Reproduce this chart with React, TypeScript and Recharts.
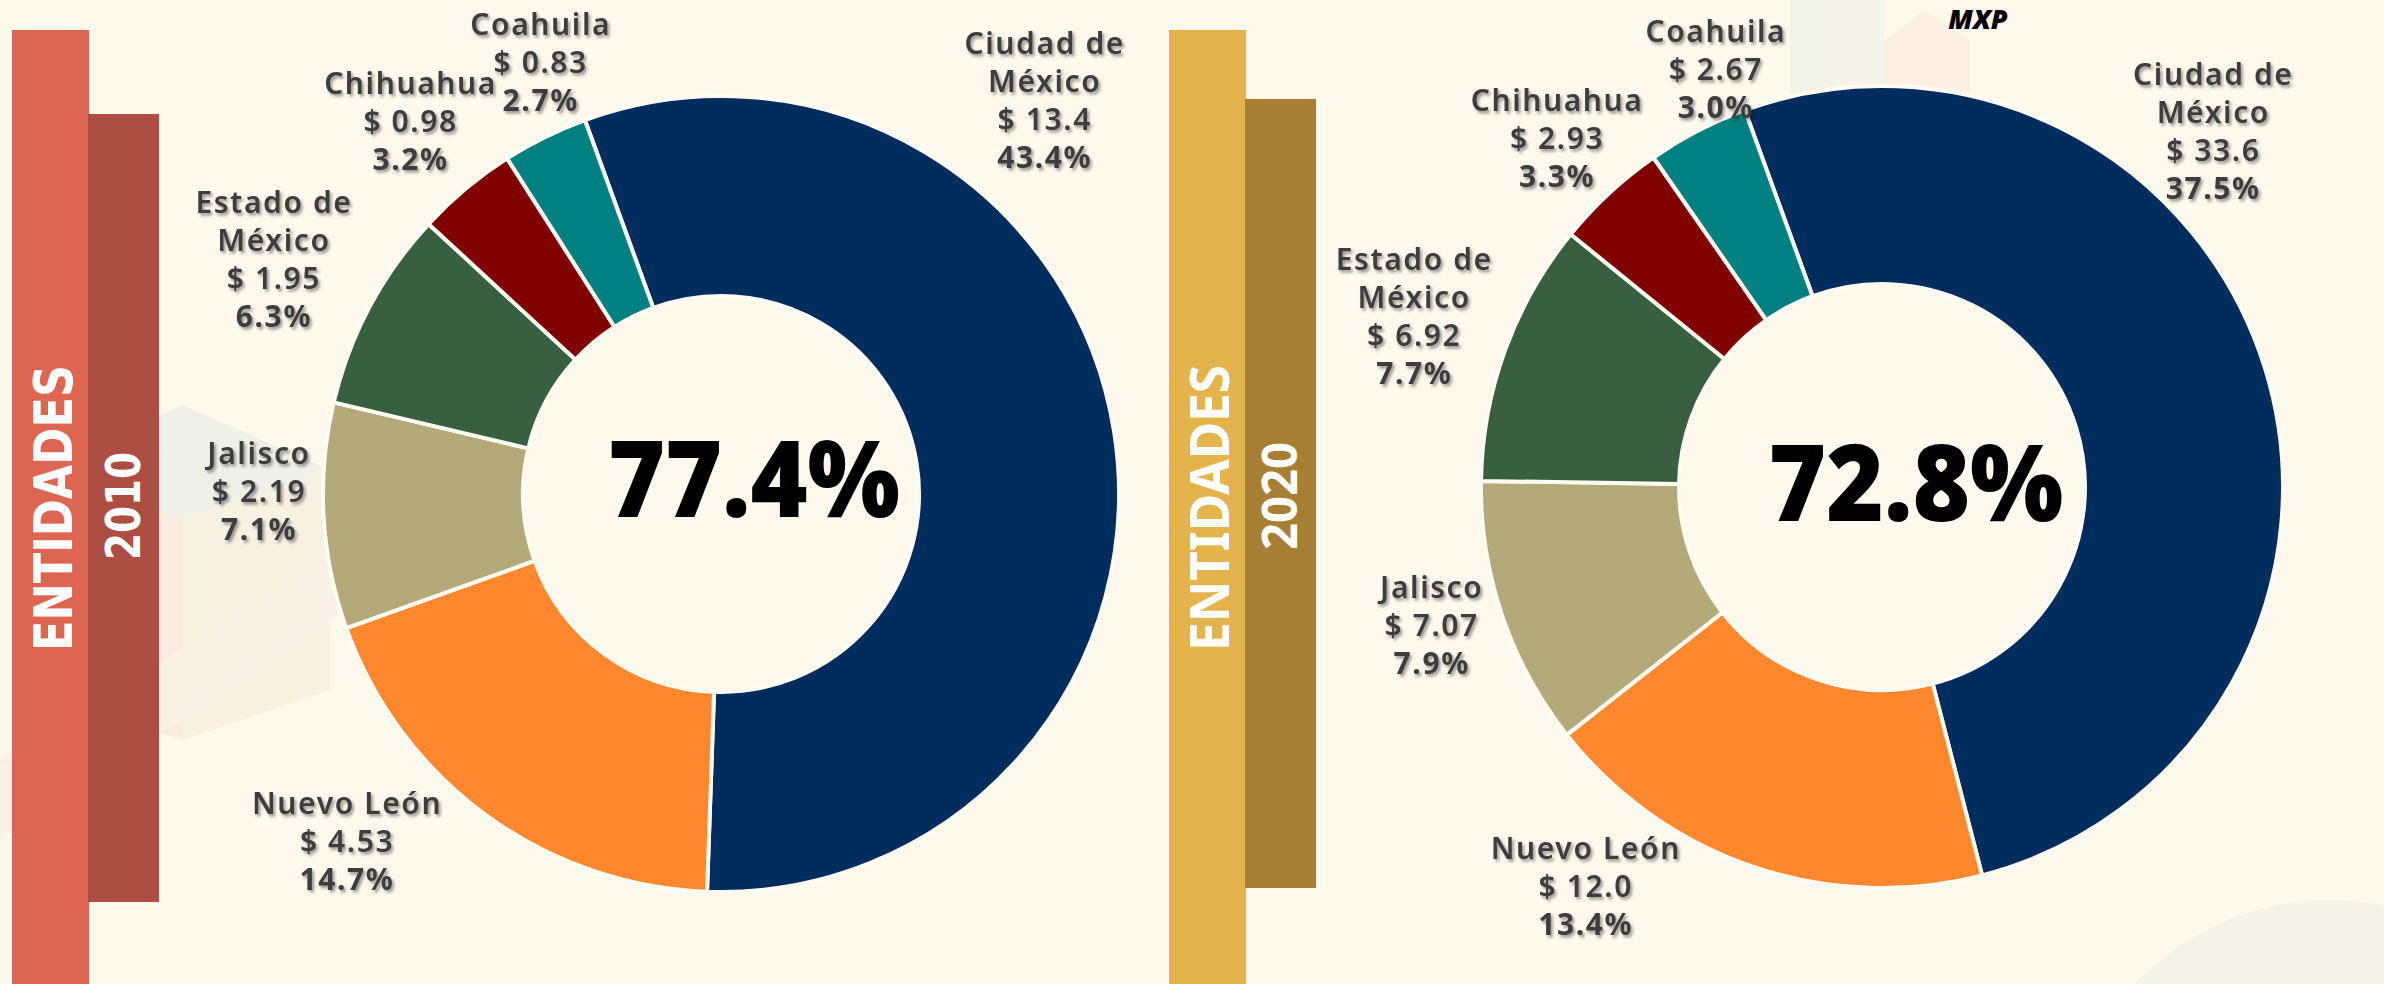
import React from 'react'
import { PieChart, Pie, Cell } from 'recharts'

const W = 2384
const H = 984

const stateNames = ['Ciudad de México', 'Nuevo León', 'Jalisco', 'Estado de México', 'Chihuahua', 'Coahuila']
const nameLines = [['Ciudad de', 'México'], ['Nuevo León'], ['Jalisco'], ['Estado de', 'México'], ['Chihuahua'], ['Coahuila']]
const amount2010 = [13.4, 4.53, 2.19, 1.95, 0.98, 0.83]
const share2010 = [43.4, 14.7, 7.1, 6.3, 3.2, 2.7]
const amount2020 = [33.6, 12.0, 7.07, 6.92, 2.93, 2.67]
const share2020 = [37.5, 13.4, 7.9, 7.7, 3.3, 3.0]
const sliceColors = ['#002D5E', '#FF882E', '#B4A979', '#386040', '#800000', '#008080']

// label placement: nudge (deg, clockwise) from slice middle, distance from centre
const nudge2010 = [-41.6, 11, 3.6, -0.3, 0.1, 3.6]
const dist2010 = [510, 510, 462, 505, 485, 468]
const nudge2020 = [-29.8, 17.9, 1.6, 0.1, -0.1, 5.7]
const dist2020 = [486, 497, 471, 498, 477, 450]

const LINE_H = 38
const TEXT = '#3D3D3D'

const money = (v: number) => (v >= 10 ? v.toFixed(1) : v.toFixed(2))
const total = (arr: number[]) => arr.reduce((s, v) => s + v, 0).toFixed(1) + '%'

function makeLabel(amounts: number[], shares: number[], nudge: number[], dist: number[]) {
  return (props: any) => {
    const { cx, cy, midAngle, index } = props
    const a = ((90 - midAngle + nudge[index]) * Math.PI) / 180
    const x = cx + dist[index] * Math.sin(a)
    const y = cy - dist[index] * Math.cos(a)
    const lines = [...nameLines[index], '$ ' + money(amounts[index]), shares[index].toFixed(1) + '%']
    const top = y - ((lines.length - 1) * LINE_H) / 2
    return (
      <text
        key={'lbl' + index}
        textAnchor="middle"
        fill={TEXT}
        fontFamily="'Noto Sans', sans-serif"
        fontSize={30}
        letterSpacing={1.6}
        filter="url(#txtShadow)"
      >
        {lines.map((l, i) => (
          <tspan key={i} x={x} y={top + i * LINE_H} dy="0.36em" fontWeight={i === lines.length - 1 ? 700 : 600}>
            {l}
          </tspan>
        ))}
      </text>
    )
  }
}

function SideBar({ x, outerColor, innerColor, innerTop, innerBottom, year, yearY, condensed }: any) {
  const fam = condensed ? "'Liberation Sans Narrow', 'DejaVu Sans Condensed', sans-serif" : "'Noto Sans', sans-serif"
  return (
    <g>
      <rect x={x} y={30} width={77} height={H - 30} fill={outerColor} />
      <rect x={x + 76} y={innerTop} width={71} height={innerBottom - innerTop} fill={innerColor} />
      <text
        transform={`translate(${x + 41},508) rotate(-90)`}
        textAnchor="middle"
        dy="0.36em"
        fill="#fff"
        fontFamily={fam}
        fontWeight={700}
        fontSize={54}
        textLength={286}
        lengthAdjust="spacingAndGlyphs"
      >
        ENTIDADES
      </text>
      <text
        transform={`translate(${x + 111},${yearY}) rotate(-90)`}
        textAnchor="middle"
        dy="0.36em"
        fill="#fff"
        fontFamily={fam}
        fontWeight={700}
        fontSize={48}
        textLength={108}
        lengthAdjust="spacingAndGlyphs"
      >
        {year}
      </text>
    </g>
  )
}

export default function App() {
  const data2010 = stateNames.map((name, i) => ({ name, value: amount2010[i] }))
  const data2020 = stateNames.map((name, i) => ({ name, value: amount2020[i] }))

  return (
    <div style={{ position: 'fixed', left: 0, top: 0, width: W, height: H, background: '#FEF9EC', overflow: 'hidden' }}>
      <svg width={W} height={H} style={{ position: 'absolute', left: 0, top: 0 }}>
        <defs>
          <filter id="txtShadow" x="-10%" y="-10%" width="130%" height="130%">
            <feDropShadow dx="2" dy="2.5" stdDeviation="1.4" floodColor="#000" floodOpacity="0.4" />
          </filter>
        </defs>
        {/* faint background decoration */}
        <g opacity={0.7}>
          <polygon points="183,405 330,470 183,520 30,470" fill="#E9EEE4" />
          <polygon points="30,470 183,520 183,740 30,690" fill="#F7E6DC" />
          <polygon points="183,520 330,470 330,690 183,740" fill="#F4EEDD" />
          <polygon points="0,760 330,560 360,600 0,840" fill="#F6EFE4" />
          <rect x={1790} y={0} width={45} height={120} fill="#EEF1E6" />
          <rect x={1835} y={0} width={50} height={120} fill="#F1F2E8" />
          <polygon points="1885,40 1925,10 1970,40 1970,120 1885,120" fill="#FCEDE2" />
          <circle cx={2330} cy={1170} r={270} fill="#EEF1E6" />
        </g>
        <SideBar x={12} outerColor="#DD6652" innerColor="#AC4E42" innerTop={114} innerBottom={902} year="2010" yearY={506} condensed />
        <SideBar x={1169} outerColor="#E2B44B" innerColor="#A67F34" innerTop={99} innerBottom={888} year="2020" yearY={496} />
      </svg>

      <div style={{ position: 'absolute', left: 0, top: 0 }}>
        <PieChart width={W} height={H} margin={{ top: 0, right: 0, bottom: 0, left: 0 }}>
          <Pie
            data={data2010}
            dataKey="value"
            nameKey="name"
            cx={721}
            cy={494}
            innerRadius={198}
            outerRadius={398}
            startAngle={110}
            endAngle={-250}
            stroke="#FFFBF2"
            strokeWidth={4}
            labelLine={false}
            label={makeLabel(amount2010, share2010, nudge2010, dist2010)}
            isAnimationActive={false}
          >
            {data2010.map((d, i) => (
              <Cell key={d.name} fill={sliceColors[i]} />
            ))}
          </Pie>
          <Pie
            data={data2020}
            dataKey="value"
            nameKey="name"
            cx={1882}
            cy={487}
            innerRadius={203}
            outerRadius={401}
            startAngle={110}
            endAngle={-250}
            stroke="#FFFBF2"
            strokeWidth={4}
            labelLine={false}
            label={makeLabel(amount2020, share2020, nudge2020, dist2020)}
            isAnimationActive={false}
          >
            {data2020.map((d, i) => (
              <Cell key={d.name} fill={sliceColors[i]} />
            ))}
          </Pie>
        </PieChart>
      </div>

      <svg width={W} height={H} style={{ position: 'absolute', left: 0, top: 0, pointerEvents: 'none' }}>
        <text x={754} y={517} textAnchor="middle" fontFamily="'Open Sans', sans-serif" fontWeight={800} fontSize={106} textLength={292} lengthAdjust="spacingAndGlyphs" fill="#000">
          {total(share2010)}
        </text>
        <text x={1916} y={521} textAnchor="middle" fontFamily="'Open Sans', sans-serif" fontWeight={800} fontSize={106} textLength={295} lengthAdjust="spacingAndGlyphs" fill="#000">
          {total(share2020)}
        </text>
        <text x={1978} y={29} textAnchor="middle" fontFamily="'Open Sans', sans-serif" fontWeight={800} fontStyle="italic" fontSize={27} fill="#000">
          MXP
        </text>
      </svg>
    </div>
  )
}
